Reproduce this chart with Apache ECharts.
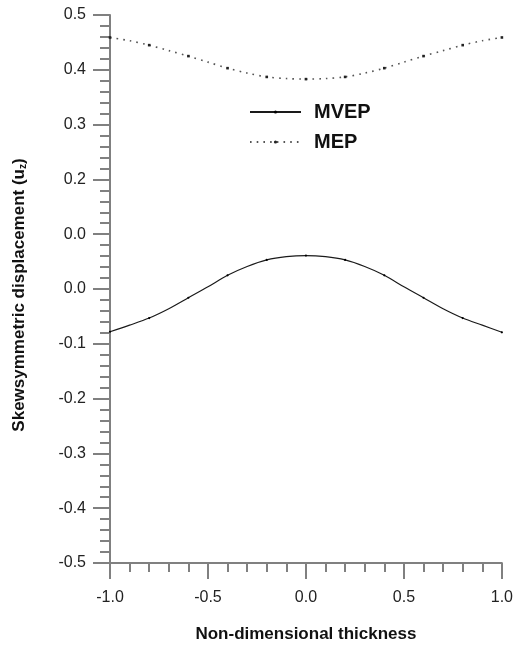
<!DOCTYPE html>
<html>
<head>
<meta charset="utf-8">
<script src="https://cdn.jsdelivr.net/npm/echarts@6/dist/echarts.min.js"></script>
<style>
html,body{margin:0;padding:0;background:#fff;}
#chart{width:516px;height:651px;}
</style>
</head>
<body>
<div id="chart"></div>
<script>
// Data
const xValues = [-1.0,-0.9,-0.8,-0.7,-0.6,-0.5,-0.4,-0.3,-0.2,-0.1,0.0,0.1,0.2,0.3,0.4,0.5,0.6,0.7,0.8,0.9,1.0];
const mvepValues = [-0.078,-0.066,-0.053,-0.036,-0.016,0.004,0.025,0.041,0.053,0.059,0.061,0.059,0.053,0.041,0.025,0.004,-0.016,-0.036,-0.053,-0.066,-0.079];
const mepValues = [0.459,0.453,0.445,0.435,0.425,0.414,0.403,0.394,0.387,0.384,0.383,0.384,0.387,0.394,0.403,0.414,0.425,0.435,0.445,0.453,0.459];
const seriesNames = ['MVEP','MEP'];
const xTickLabels = ['-1.0','-0.5','0.0','0.5','1.0'];
const yTickLabels = ['-0.5','-0.4','-0.3','-0.2','-0.1','0.0','0.0','0.2','0.3','0.4','0.5'];
const xTitle = 'Non-dimensional thickness';
const yTitle = 'Skewsymmetric displacement (u{z|z})';

const FONT = 'Liberation Sans, Arial, Helvetica, sans-serif';
const AXIS_COLOR = '#808080';

function pairs(xs, ys){ return xs.map((x,i)=>[x, ys[i]]); }
function markEvery2(type){ return function(v, p){ return p.dataIndex % 2 === 0 ? type : 'none'; }; }

const chart = echarts.init(document.getElementById('chart'), null, {renderer:'canvas'});
chart.setOption({
  animation: false,
  backgroundColor: '#ffffff',
  grid: {left:110, right:14, top:15, bottom:88, containLabel:false},
  legend: {
    orient: 'vertical',
    left: 249, top: 102,
    padding: 0,
    itemGap: 10,
    itemWidth: 51,
    itemHeight: 4,
    data: seriesNames,
    textStyle: {fontFamily: FONT, fontSize: 20, fontWeight: 'bold', color: '#111', padding: [0,0,0,8]}
  },
  xAxis: {
    type: 'value', min: -1, max: 1, interval: 0.5,
    name: xTitle, nameLocation: 'middle', nameGap: 63,
    nameTextStyle: {fontFamily: FONT, fontSize: 17, fontWeight: 'bold', color: '#111'},
    axisLine: {show:true, onZero:false, lineStyle:{color:AXIS_COLOR, width:2}},
    axisTick: {show:true, inside:false, length:16, lineStyle:{color:AXIS_COLOR, width:2}},
    minorTick: {show:true, splitNumber:5, length:9, lineStyle:{color:AXIS_COLOR, width:2}},
    splitLine: {show:false},
    axisLabel: {
      margin: 27, fontFamily: FONT, fontSize: 16, color: '#222',
      formatter: function(v){ return xTickLabels[Math.round((v + 1) / 0.5)]; }
    }
  },
  yAxis: {
    type: 'value', min: -0.5, max: 0.5, interval: 0.1,
    name: yTitle, nameLocation: 'middle', nameGap: 82, nameRotate: 90,
    nameTextStyle: {
      fontFamily: FONT, fontSize: 17, fontWeight: 'bold', color: '#111', padding: [0,12,0,0],
      rich: {z: {fontFamily: FONT, fontSize: 10, fontWeight: 'bold', color: '#111', verticalAlign: 'bottom'}}
    },
    axisLine: {show:true, onZero:false, lineStyle:{color:AXIS_COLOR, width:2}},
    axisTick: {show:true, inside:false, length:17, lineStyle:{color:AXIS_COLOR, width:2}},
    minorTick: {show:true, splitNumber:5, length:10, lineStyle:{color:AXIS_COLOR, width:2}},
    splitLine: {show:false},
    axisLabel: {
      margin: 24, fontFamily: FONT, fontSize: 16, color: '#222',
      formatter: function(v){ return yTickLabels[Math.round((v + 0.5) / 0.1)]; }
    }
  },
  series: [
    {
      name: seriesNames[0], type: 'line', smooth: 0.3,
      data: pairs(xValues, mvepValues),
      symbol: markEvery2('circle'), symbolSize: 2.2, showAllSymbol: true,
      lineStyle: {color:'#1a1a1a', width:1.2},
      itemStyle: {color:'#000'}
    },
    {
      name: seriesNames[1], type: 'line', smooth: 0.3,
      data: pairs(xValues, mepValues),
      symbol: markEvery2('rect'), symbolSize: 2.6, showAllSymbol: true,
      lineStyle: {color:'#555', width:1.6, type:[1.6, 5.1], cap:'butt'},
      itemStyle: {color:'#222'}
    }
  ]
});
</script>
</body>
</html>
